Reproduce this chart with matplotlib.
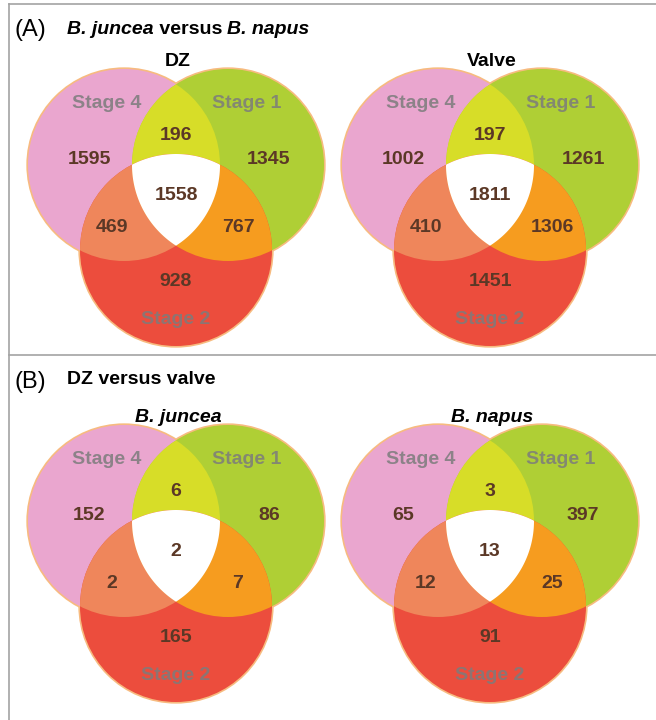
import numpy as np
import matplotlib
matplotlib.use("Agg")
import matplotlib.pyplot as plt
from matplotlib.patches import Circle, Polygon

plt.rcParams['font.family'] = ['Liberation Sans', 'DejaVu Sans']

# region order: stage4 only, stage1 only, stage2 only, 4&1, 4&2, 1&2, all three
REGIONS = ["s4", "s1", "s2", "s41", "s42", "s12", "all"]
dz_counts = [1595, 1345, 928, 196, 469, 767, 1558]
valve_counts = [1002, 1261, 1451, 197, 410, 1306, 1811]
juncea_counts = [152, 86, 165, 6, 2, 7, 2]
napus_counts = [65, 397, 91, 3, 12, 25, 13]
stage_names = ["Stage 4", "Stage 1", "Stage 2"]

PINK = "#eaa6cf"
GREEN = "#afcf35"
RED = "#ec4d3d"
YELLOW = "#d7dd28"
SALMON = "#ef865b"
ORANGE = "#f69c1f"
EDGE = "#f7bb80"
NUM_COL = "#5b3826"
STAGE_COL = "#7c7c7c"

R = 96
DX = 52
DY = 85

# label offsets from the venn centre
num_offsets = {"s4": (-87, -5), "s1": (93, -5), "s2": (0, 117), "s41": (0, -30),
               "s42": (-64, 63), "s12": (62, 63), "all": (0, 30)}
stage_offsets = [(-69, -62), (71, -62), (0, 155)]

fig = plt.figure(figsize=(6.56, 7.2), dpi=100)
ax = fig.add_axes([0, 0, 1, 1])
ax.set_xlim(0, 656)
ax.set_ylim(720, 0)
ax.axis("off")


def circ(c, **kw):
    return Circle(c, R, transform=ax.transData, **kw)


def draw_venn(cx, cy, title, counts, italic=False):
    centers = [(cx - DX, cy), (cx + DX, cy), (cx, cy + DY)]
    p4, p1, p2 = centers
    # outlines underneath, fills cover the inner half
    for c in centers:
        ax.add_patch(circ(c, fill=False, edgecolor=EDGE, lw=2.4, zorder=1))
    ax.add_patch(circ(p4, facecolor=PINK, edgecolor="none", zorder=2))
    ax.add_patch(circ(p1, facecolor=GREEN, edgecolor="none", zorder=2))
    yel = circ(p1, facecolor=YELLOW, edgecolor="none", zorder=3)
    ax.add_patch(yel)
    yel.set_clip_path(circ(p4))
    ax.add_patch(circ(p2, facecolor=RED, edgecolor="none", zorder=4))
    sal = circ(p2, facecolor=SALMON, edgecolor="none", zorder=5)
    ax.add_patch(sal)
    sal.set_clip_path(circ(p4))
    org = circ(p2, facecolor=ORANGE, edgecolor="none", zorder=5)
    ax.add_patch(org)
    org.set_clip_path(circ(p1))

    # centre region: boundary points of each circle lying inside the other two
    t = np.linspace(0, 2 * np.pi, 720)
    pts = []
    for i, c in enumerate(centers):
        xs = c[0] + R * np.cos(t)
        ys = c[1] + R * np.sin(t)
        keep = np.ones_like(t, dtype=bool)
        for j, o in enumerate(centers):
            if j != i:
                keep &= (xs - o[0]) ** 2 + (ys - o[1]) ** 2 <= R ** 2 + 1e-6
        pts.append(np.column_stack([xs[keep], ys[keep]]))
    pts = np.vstack(pts)
    m = pts.mean(axis=0)
    pts = pts[np.argsort(np.arctan2(pts[:, 1] - m[1], pts[:, 0] - m[0]))]
    ax.add_patch(Polygon(pts, closed=True, facecolor="white", edgecolor="none", zorder=6))

    for name, val in zip(REGIONS, counts):
        ox, oy = num_offsets[name]
        ax.text(cx + ox, cy + oy, str(val), ha="center", va="center", fontsize=14,
                fontweight="bold", color=NUM_COL, zorder=7)
    for name, (ox, oy) in zip(stage_names, stage_offsets):
        ax.text(cx + ox, cy + oy, name, ha="center", va="center", fontsize=14,
                fontweight="bold", color=STAGE_COL, alpha=0.85, zorder=7)
    ax.text(cx + 2, cy - 103, title, ha="center", va="center", fontsize=14,
            fontweight="bold", style="italic" if italic else "normal", color="black", zorder=7)


draw_venn(176, 165, "DZ", dz_counts)
draw_venn(490, 165, "Valve", valve_counts)
draw_venn(176, 521, "B. juncea", juncea_counts, italic=True)
draw_venn(490, 521, "B. napus", napus_counts, italic=True)

# panel frame
fc = "#a3a3a3"
ax.plot([9, 656], [3.5, 3.5], color=fc, lw=1.2)
ax.plot([9, 656], [355, 355], color=fc, lw=1.2)
ax.plot([9, 9], [3.5, 720], color=fc, lw=1.2)

# panel headings
ax.text(15, 30, "(A)", ha="left", va="center", fontsize=17, color="black")
ax.text(15, 382, "(B)", ha="left", va="center", fontsize=17, color="black")
ax.text(67, 379, "DZ versus valve", ha="left", va="center", fontsize=14,
        fontweight="bold", color="black")

# mixed italic / upright heading, laid out piece by piece
fig.canvas.draw()
renderer = fig.canvas.get_renderer()
x = 67
for piece, st in [("B. juncea", "italic"), (" versus ", "normal"), ("B. napus", "italic")]:
    txt = ax.text(x, 29, piece, ha="left", va="center", fontsize=14,
                  fontweight="bold", style=st, color="black")
    bb = txt.get_window_extent(renderer=renderer)
    x += bb.width

fig.savefig("out.png", dpi=100)
